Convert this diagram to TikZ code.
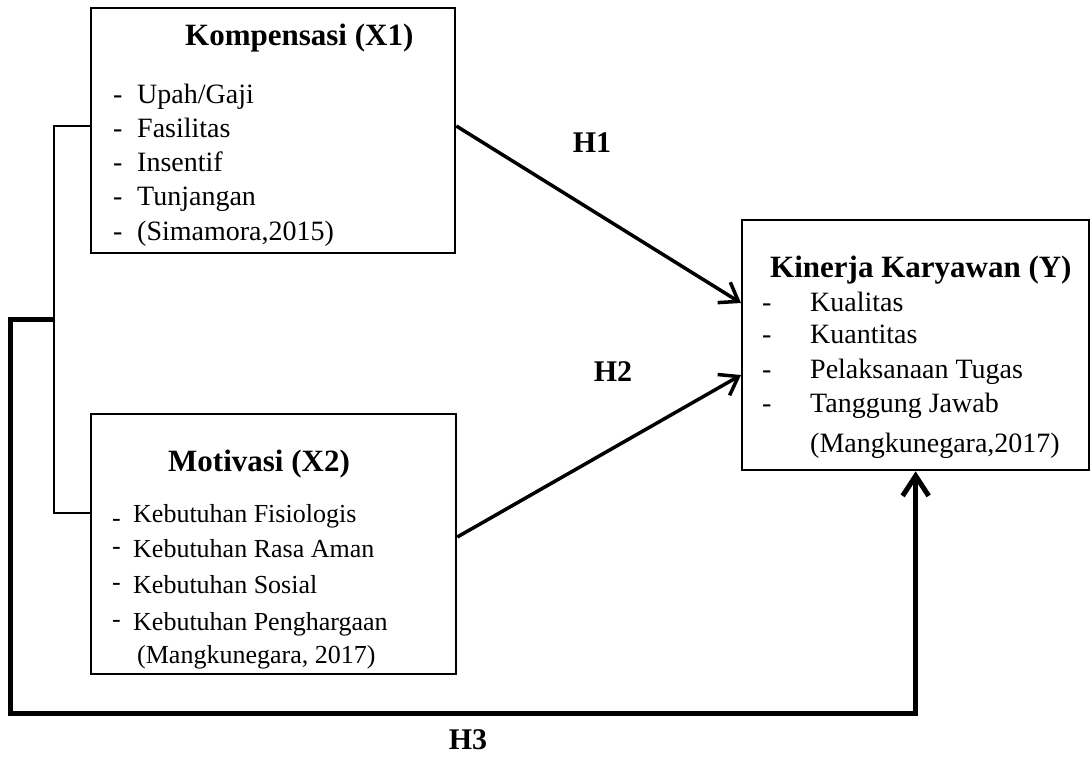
\documentclass[tikz,border=0pt]{standalone}
\usepackage{fontspec}
\setmainfont{Liberation Serif}
\usetikzlibrary{calc, arrows.meta, positioning}

\tikzset{
    box/.style = {draw, line width=2.3pt, inner sep=0pt, anchor=north west},
    head/.style = {font=\fontsize{31}{36}\selectfont\bfseries, inner sep=0pt, anchor=base west},
    itemA/.style = {font=\fontsize{28}{34}\selectfont, inner sep=0pt, anchor=base west},
    itemB/.style = {font=\fontsize{26}{32}\selectfont, inner sep=0pt, anchor=base west},
    hyp/.style = {font=\fontsize{30}{36}\selectfont\bfseries, inner sep=0pt},
    link/.style = {line width=3.5pt, -{Straight Barb[length=17pt,width=24pt]}},
    brace/.style = {line width=2pt},
    simul/.style = {line width=5pt, -{Straight Barb[length=20pt,width=26pt]}}
}

\begin{document}
\begin{tikzpicture}[x=1pt, y=-1pt]
    \useasboundingbox (0,0) rectangle (1091,764);
    \def\stepA{34.25}

    %boxes
    \node[box, minimum width=364pt, minimum height=245pt] (komp) at (90,7) {};
    \node[box, minimum width=365pt, minimum height=260pt] (moti) at (90,413) {};
    \node[box, minimum width=347pt, minimum height=250pt] (kin) at (741,219) {};

    %box X1
    \node[head] (komp-title) at (185,45) {Kompensasi (X1)};
    \foreach \txt [count=\i] in {Upah/Gaji, Fasilitas, Insentif, Tunjangan, {(Simamora,2015)}} {
        \node[itemA] (komp-d\i) at (113, {103+\stepA*(\i-1)}) {-};
        \node[itemA] (komp-\i) at (137, {103+\stepA*(\i-1)}) {\txt};
    }

    %box X2
    \node[head] (moti-title) at (168,471) {Motivasi (X2)};
    \node[itemB] (moti-d1) at (112,526) {-};
    \foreach \yy/\txt [count=\i] in {522/Kebutuhan Fisiologis, 557/Kebutuhan Rasa Aman, 593/Kebutuhan Sosial, 630/Kebutuhan Penghargaan} {
        \node[itemB] (moti-\i) at (133,\yy) {\txt};
    }
    \foreach \yy [count=\i from 2] in {554, 590, 627} {
        \node[itemB] (moti-d\i) at (112,\yy) {-};
    }
    \node[itemB] (moti-src) at (137,663) {(Mangkunegara, 2017)};

    %box Y
    \node[head] (kin-title) at (770,277) {Kinerja Karyawan (Y)};
    \foreach \yy/\txt [count=\i] in {311/Kualitas, 343/Kuantitas, 378/Pelaksanaan Tugas, 412/Tanggung Jawab} {
        \node[itemA] (kin-d\i) at (762,\yy) {-};
        \node[itemA] (kin-\i) at (810,\yy) {\txt};
    }
    \node[itemA] (kin-src) at (810,452) {(Mangkunegara,2017)};

    %bracket joining X1 and X2
    \coordinate (b1) at ($(komp.north west)+(0,119)$);
    \coordinate (b2) at ($(moti.north west)+(0,100)$);
    \draw[brace] (b1) -- ++(-36,0) coordinate (bt) |- (b2);
    \coordinate (jct) at (bt |- 0,319);

    %arrows
    \coordinate (h1s) at ($(komp.north east)+(0,119)$);
    \coordinate (h1e) at ($(kin.north west)+(0,84)$);
    \coordinate (h2s) at ($(moti.north east)+(0,124)$);
    \coordinate (h2e) at ($(kin.north west)+(0,156)$);
    \draw[link] (h1s) -- (h1e);
    \draw[link] (h2s) -- (h2e);
    \draw[simul] (jct) -| (10,713) -| (kin.south);

    %labels
    \node[hyp] (h1) at (592,143) {H1};
    \node[hyp] (h2) at (613,372) {H2};
    \node[hyp] (h3) at (468,740) {H3};
\end{tikzpicture}
\end{document}
